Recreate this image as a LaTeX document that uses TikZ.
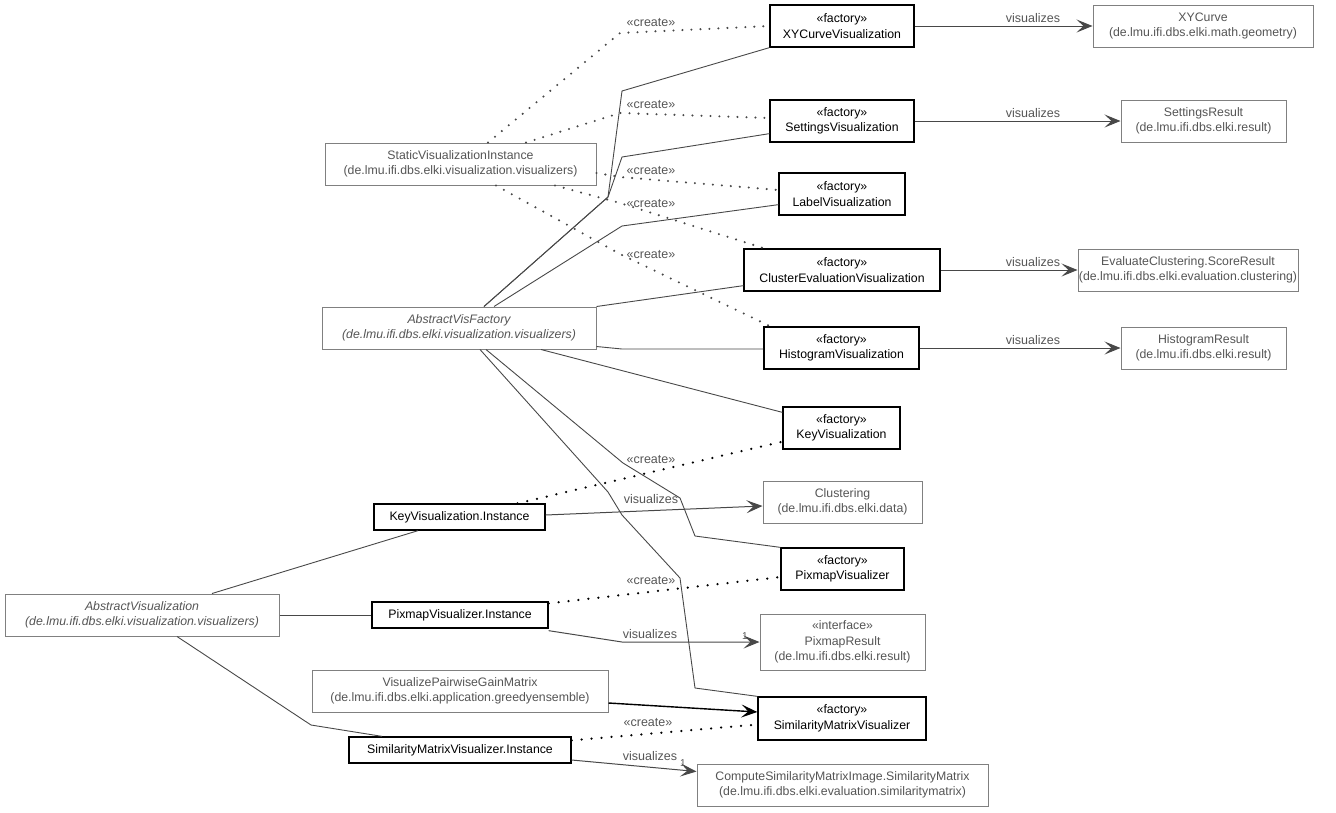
\documentclass[tikz,border=0pt]{standalone}
\usepackage{fontspec}
\setmainfont{Liberation Sans}
\usetikzlibrary{arrows.meta}
\definecolor{lc}{HTML}{484848}
\definecolor{gt}{HTML}{555555}
\definecolor{gb}{HTML}{808080}
\begin{document}
\begin{tikzpicture}[x=1pt,y=-1pt,
  every node/.style={font=\fontsize{12.3}{15.5}\selectfont, align=center, inner sep=0pt},
  fac/.style={draw=black, line width=1.3pt, fill=white, text=black},
  ext/.style={draw=gb, line width=1pt, fill=white, text=gt},
  lbl/.style={text=gt, font=\fontsize{12.5}{14}\selectfont},
  one/.style={text=gt, font=\fontsize{10}{11}\selectfont},
  gen/.style={draw=lc, line width=0.9pt},
  vis/.style={draw=lc, line width=1pt, -{Stealth[length=16pt,width=13pt,inset=7pt]}},
  crg/.style={draw=lc, line width=2.3pt, line cap=round, dash pattern=on 0pt off 9pt},
  crb/.style={draw=black, line width=2.5pt, line cap=round, dash pattern=on 0pt off 10pt},
  usea/.style={draw=black, line width=1.4pt, -{Stealth[length=16pt,width=13pt,inset=7pt]}}
]
\useasboundingbox (0,0) rectangle (1336,812);
% nodes
\node[fac, minimum width=144, minimum height=42] (xyv) at (842,26) {«factory»\\XYCurveVisualization};
\node[ext, minimum width=220, minimum height=42] (xyc) at (1203,26) {XYCurve\\(de.lmu.ifi.dbs.elki.math.geometry)};
\node[fac, minimum width=144, minimum height=42] (setv) at (842,121) {«factory»\\SettingsVisualization};
\node[ext, minimum width=165, minimum height=42] (setr) at (1203.5,121) {SettingsResult\\(de.lmu.ifi.dbs.elki.result)};
\node[ext, minimum width=271, minimum height=42] (svi) at (460.5,164) {StaticVisualizationInstance\\(de.lmu.ifi.dbs.elki.visualization.visualizers)};
\node[fac, minimum width=126, minimum height=42] (labv) at (842,194) {«factory»\\LabelVisualization};
\node[fac, minimum width=196, minimum height=42] (cev) at (842,270) {«factory»\\ClusterEvaluationVisualization};
\node[ext, minimum width=220, minimum height=42] (csr) at (1188,270) {EvaluateClustering.ScoreResult\\(de.lmu.ifi.dbs.elki.evaluation.clustering)};
\node[ext, minimum width=274, minimum height=42, font=\fontsize{12.3}{15.5}\selectfont\itshape] (avf) at (459,328) {AbstractVisFactory\\(de.lmu.ifi.dbs.elki.visualization.visualizers)};
\node[fac, minimum width=155, minimum height=42] (hv) at (841.5,348) {«factory»\\HistogramVisualization};
\node[ext, minimum width=165, minimum height=42] (hr) at (1203.5,348) {HistogramResult\\(de.lmu.ifi.dbs.elki.result)};
\node[fac, minimum width=117, minimum height=42] (kv) at (841.5,428) {«factory»\\KeyVisualization};
\node[fac, minimum width=171, minimum height=26] (kvi) at (459.5,517) {KeyVisualization.Instance};
\node[ext, minimum width=159, minimum height=42] (clu) at (842.5,502) {Clustering\\(de.lmu.ifi.dbs.elki.data)};
\node[fac, minimum width=123, minimum height=42] (pv) at (842.5,569) {«factory»\\PixmapVisualizer};
\node[ext, minimum width=274, minimum height=42, font=\fontsize{12.3}{15.5}\selectfont\itshape] (av) at (142,615) {AbstractVisualization\\(de.lmu.ifi.dbs.elki.visualization.visualizers)};
\node[fac, minimum width=176, minimum height=26] (pvi) at (460,615) {PixmapVisualizer.Instance};
\node[ext, minimum width=165, minimum height=56] (pr) at (842.5,642) {«interface»\\PixmapResult\\(de.lmu.ifi.dbs.elki.result)};
\node[ext, minimum width=296, minimum height=42] (vpgm) at (460,691) {VisualizePairwiseGainMatrix\\(de.lmu.ifi.dbs.elki.application.greedyensemble)};
\node[fac, minimum width=168, minimum height=43] (smv) at (842,718.5) {«factory»\\SimilarityMatrixVisualizer};
\node[fac, minimum width=222, minimum height=26] (smvi) at (460,750) {SimilarityMatrixVisualizer.Instance};
\node[ext, minimum width=291, minimum height=42] (sm) at (842.5,785) {ComputeSimilarityMatrixImage.SimilarityMatrix\\(de.lmu.ifi.dbs.elki.evaluation.similaritymatrix)};
% bend points
\coordinate (b1) at (608,197);
\coordinate (b2) at (622,91);
\coordinate (b3) at (622,157);
\coordinate (b4) at (622,226);
\coordinate (b5) at (622,349);
\coordinate (b6) at (623,463);
\coordinate (b7) at (680,498);
\coordinate (b8) at (695,536);
\coordinate (b9) at (608,492);
\coordinate (b10) at (622,515);
\coordinate (b11) at (680,578);
\coordinate (b12) at (695,688);
\coordinate (b13) at (311,725);
\coordinate (b14) at (622,642);
\coordinate (c1) at (620,33);
\coordinate (c2) at (620,113);
\coordinate (c3) at (620,177);
\coordinate (c4) at (620,203);
\coordinate (c5) at (620,254);
% generalization lines
\draw[gen] ([xshift=25pt]avf.north) -- (b1) -- (b2) -- (xyv.south west);
\draw[gen] ([xshift=25pt]avf.north) -- (b1) -- (b3) -- ([yshift=9pt]setv.south west);
\draw[gen] ([xshift=35pt]avf.north) -- (b4) -- ([yshift=11pt]labv.south west);
\draw[gen] (avf.north east) -- ([yshift=6pt]cev.south west);
\draw[gen] ([yshift=3pt]avf.south east) -- (b5) -- ([yshift=-1pt]hv.west);
\draw[gen] ([xshift=82pt]avf.south) -- ([yshift=-6pt]kv.north west);
\draw[gen] ([xshift=27pt]avf.south) -- (b6) -- (b7) -- (b8) -- (pv.north west);
\draw[gen] ([xshift=21pt]avf.south) -- (b9) -- (b10) -- (b11) -- (b12) -- (smv.north west);
\draw[gen] ([xshift=70pt]av.north) -- ([xshift=-41.5pt]kvi.south);
\draw[gen] (av.east) -- (pvi.west);
\draw[gen] ([xshift=35pt]av.south) -- (b13) -- ([xshift=-78pt]smvi.north);
% create (grey)
\draw[crg] ([xshift=27.5pt]svi.north) -- (c1) -- (xyv.west);
\draw[crg] ([xshift=65.5pt]svi.north) -- (c2) -- ([yshift=3pt]setv.west);
\draw[crg] ([yshift=-9pt]svi.east) -- (c3) -- ([yshift=4pt]labv.west);
\draw[crg] ([xshift=94.5pt]svi.south) -- (c4) -- ([xshift=21pt]cev.north west);
\draw[crg] ([xshift=35.5pt]svi.south) -- (c5) -- ([xshift=7pt]hv.north west);
% create (black)
\draw[crb] ([xshift=58pt]kvi.north) -- ([yshift=8pt]kv.south west);
\draw[crb] ([yshift=-2pt]pvi.north east) -- ([yshift=-8pt]pv.west);
\draw[crb] ([yshift=-4pt]smvi.north east) -- ([yshift=-6pt]smv.west);
% visualizes
\draw[vis] (xyv.east) -- (xyc.west);
\draw[vis] (setv.east) -- (setr.west);
\draw[vis] (cev.east) -- (csr.west);
\draw[vis] (hv.east) -- (hr.west);
\draw[vis] ([yshift=2pt]kvi.east) -- ([yshift=-4pt]clu.west);
\draw[vis] ([yshift=-2pt]pvi.south east) -- (b14) -- (pr.west);
\draw[vis] ([yshift=-10pt]smvi.east) -- ([yshift=-8pt]sm.north west);
\draw[usea] ([yshift=-12pt]vpgm.east) -- ([yshift=6.5pt]smv.west);
% labels
\node[lbl] (l1) at (651,23) {«create»};
\node[lbl] (l2) at (651,105) {«create»};
\node[lbl] (l3) at (651,171) {«create»};
\node[lbl] (l4) at (651,204) {«create»};
\node[lbl] (l5) at (651,255) {«create»};
\node[lbl] (l6) at (651,460) {«create»};
\node[lbl] (l7) at (651,581) {«create»};
\node[lbl] (l8) at (648,723) {«create»};
\node[lbl] (v1) at (1033,18) {visualizes};
\node[lbl] (v2) at (1033,113) {visualizes};
\node[lbl] (v3) at (1033,262) {visualizes};
\node[lbl] (v4) at (1033,340) {visualizes};
\node[lbl] (v5) at (651,499) {visualizes};
\node[lbl] (v6) at (650,634) {visualizes};
\node[lbl] (v7) at (650,756) {visualizes};
\node[one] (o1) at (745,636) {1};
\node[one] (o2) at (683,763) {1};
\end{tikzpicture}
\end{document}
